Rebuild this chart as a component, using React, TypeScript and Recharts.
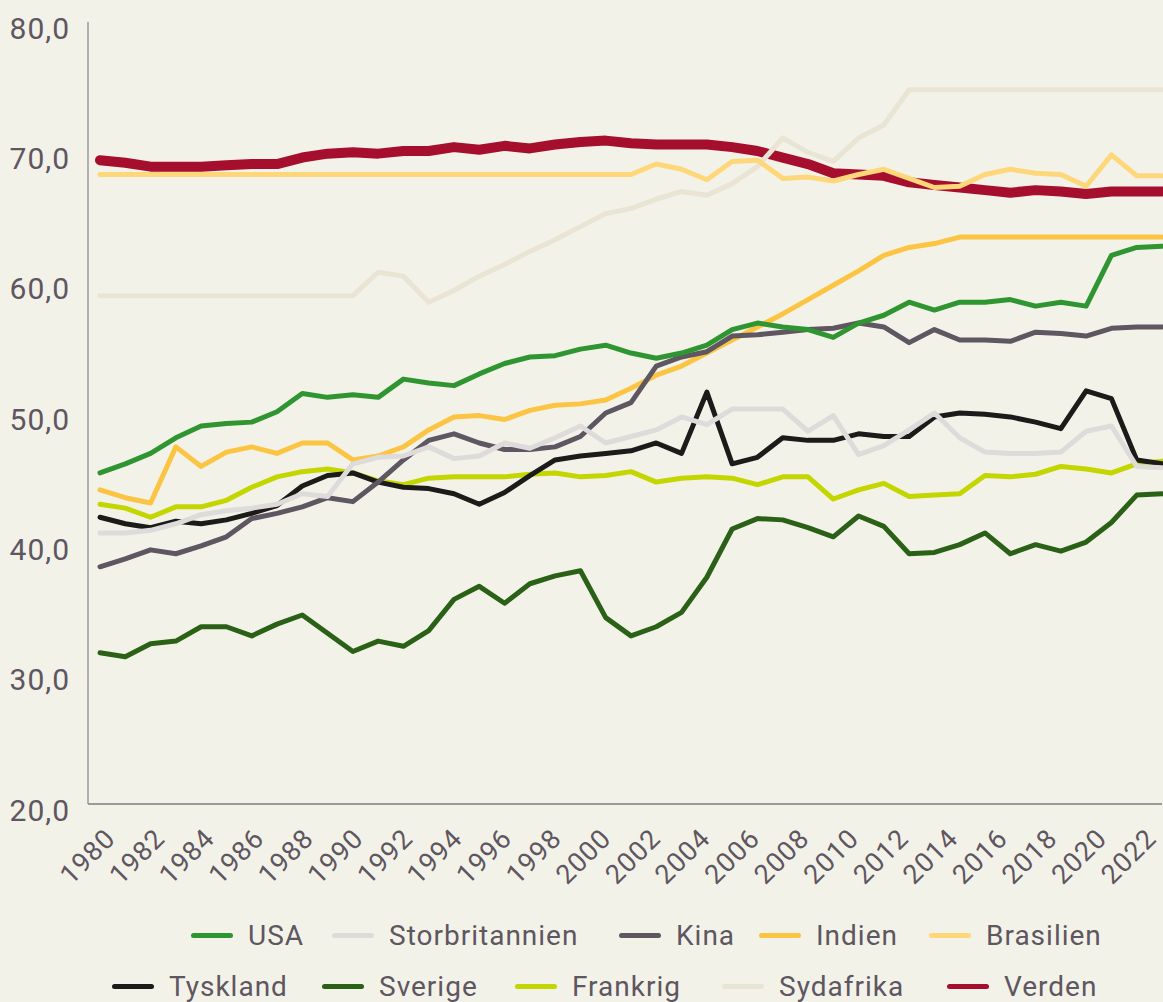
import React from "react";
import { LineChart, Line, XAxis, YAxis, Legend } from "recharts";

const years = [
  1980, 1981, 1982, 1983, 1984, 1985, 1986, 1987, 1988, 1989, 1990, 1991, 1992,
  1993, 1994, 1995, 1996, 1997, 1998, 1999, 2000, 2001, 2002, 2003, 2004, 2005,
  2006, 2007, 2008, 2009, 2010, 2011, 2012, 2013, 2014, 2015, 2016, 2017, 2018,
  2019, 2020, 2021, 2022,
];

const usa = [
  45.4, 46.1, 46.9, 48.1, 49.0, 49.2, 49.3, 50.1, 51.5, 51.2, 51.4, 51.2, 52.6,
  52.3, 52.1, 53.0, 53.8, 54.3, 54.4, 54.9, 55.2, 54.6, 54.2, 54.6, 55.2, 56.4,
  56.9, 56.6, 56.4, 55.8, 56.9, 57.5, 58.5, 57.9, 58.5, 58.5, 58.7, 58.2, 58.5,
  58.2, 62.1, 62.7, 62.8,
];
const storbritannien = [
  40.8, 40.8, 41.0, 41.5, 42.2, 42.5, 42.7, 43.0, 43.8, 43.6, 46.1, 46.6, 46.7,
  47.4, 46.5, 46.7, 47.7, 47.3, 48.1, 49.0, 47.7, 48.2, 48.7, 49.7, 49.1, 50.3,
  50.3, 50.3, 48.6, 49.8, 46.8, 47.5, 48.7, 50.0, 48.1, 47.0, 46.9, 46.9, 47.0,
  48.6, 49.0, 45.9, 45.8,
];
const kina = [
  38.2, 38.8, 39.5, 39.2, 39.8, 40.5, 41.9, 42.3, 42.8, 43.5, 43.2, 44.7, 46.4,
  47.9, 48.4, 47.7, 47.2, 47.2, 47.4, 48.2, 50.0, 50.8, 53.6, 54.3, 54.7, 55.9,
  56.0, 56.2, 56.4, 56.5, 56.9, 56.6, 55.4, 56.4, 55.6, 55.6, 55.5, 56.2, 56.1,
  55.9, 56.5, 56.6, 56.6,
];
const indien = [
  44.1, 43.5, 43.1, 47.4, 45.9, 47.0, 47.4, 46.9, 47.7, 47.7, 46.4, 46.7, 47.4,
  48.7, 49.7, 49.8, 49.5, 50.2, 50.6, 50.7, 51.0, 51.9, 52.9, 53.6, 54.6, 55.6,
  56.6, 57.6, 58.7, 59.8, 60.9, 62.1, 62.7, 63.0, 63.5, 63.5, 63.5, 63.5, 63.5,
  63.5, 63.5, 63.5, 63.5,
];
const brasilien = [
  68.3, 68.3, 68.3, 68.3, 68.3, 68.3, 68.3, 68.3, 68.3, 68.3, 68.3, 68.3, 68.3,
  68.3, 68.3, 68.3, 68.3, 68.3, 68.3, 68.3, 68.3, 68.3, 69.1, 68.7, 67.9, 69.3,
  69.4, 68.0, 68.1, 67.8, 68.3, 68.7, 68.0, 67.3, 67.4, 68.3, 68.7, 68.4, 68.3,
  67.4, 69.8, 68.2, 68.2,
];
const tyskland = [
  42.0, 41.5, 41.2, 41.7, 41.5, 41.8, 42.3, 42.9, 44.4, 45.2, 45.4, 44.7, 44.3,
  44.2, 43.8, 43.0, 43.9, 45.2, 46.4, 46.7, 46.9, 47.1, 47.7, 46.9, 51.6, 46.1,
  46.6, 48.1, 47.9, 47.9, 48.4, 48.2, 48.2, 49.7, 50.0, 49.9, 49.7, 49.3, 48.8,
  51.7, 51.1, 46.4, 46.1,
];
const sverige = [
  31.6, 31.3, 32.3, 32.5, 33.6, 33.6, 32.9, 33.8, 34.5, 33.1, 31.7, 32.5, 32.1,
  33.3, 35.7, 36.7, 35.4, 36.9, 37.5, 37.9, 34.3, 32.9, 33.6, 34.7, 37.4, 41.1,
  41.9, 41.8, 41.2, 40.5, 42.1, 41.3, 39.2, 39.3, 39.9, 40.8, 39.2, 39.9, 39.4,
  40.1, 41.6, 43.7, 43.8,
];
const frankrig = [
  43.0, 42.7, 42.0, 42.8, 42.8, 43.3, 44.3, 45.1, 45.5, 45.7, 45.4, 44.8, 44.5,
  45.0, 45.1, 45.1, 45.1, 45.3, 45.4, 45.1, 45.2, 45.5, 44.7, 45.0, 45.1, 45.0,
  44.5, 45.1, 45.1, 43.4, 44.1, 44.6, 43.6, 43.7, 43.8, 45.2, 45.1, 45.3, 45.9,
  45.7, 45.4, 46.1, 46.3,
];
const sydafrika = [
  59.0, 59.0, 59.0, 59.0, 59.0, 59.0, 59.0, 59.0, 59.0, 59.0, 59.0, 60.8, 60.5,
  58.5, 59.4, 60.5, 61.4, 62.4, 63.3, 64.3, 65.3, 65.7, 66.4, 67.0, 66.7, 67.6,
  68.9, 71.1, 70.0, 69.3, 71.1, 72.1, 74.8, 74.8, 74.8, 74.8, 74.8, 74.8, 74.8,
  74.8, 74.8, 74.8, 74.8,
];
const verden = [
  69.4, 69.2, 68.9, 68.9, 68.9, 69.0, 69.1, 69.1, 69.6, 69.9, 70.0, 69.9, 70.1,
  70.1, 70.4, 70.2, 70.5, 70.3, 70.6, 70.8, 70.9, 70.7, 70.6, 70.6, 70.6, 70.4,
  70.1, 69.6, 69.1, 68.4, 68.3, 68.2, 67.7, 67.5, 67.3, 67.1, 66.9, 67.1, 67.0,
  66.8, 67.0, 67.0, 67.0,
];

const yTicks = [20, 30, 40, 50, 60, 70, 80];

const series = [
  { key: "USA", values: usa, color: "#2f9530", width: 5 },
  { key: "Storbritannien", values: storbritannien, color: "#dddcda", width: 5 },
  { key: "Kina", values: kina, color: "#5e5660", width: 5 },
  { key: "Indien", values: indien, color: "#fbc443", width: 5 },
  { key: "Brasilien", values: brasilien, color: "#fdd77a", width: 5 },
  { key: "Tyskland", values: tyskland, color: "#1b1b19", width: 5 },
  { key: "Sverige", values: sverige, color: "#2a6117", width: 5 },
  { key: "Frankrig", values: frankrig, color: "#c3d600", width: 5 },
  { key: "Sydafrika", values: sydafrika, color: "#e9e4d4", width: 5 },
  { key: "Verden", values: verden, color: "#a50e2d", width: 10 },
];

// lines are stacked in reverse legend order (Verden at the bottom, USA on top)
const drawOrder = series.map((s) => s.key).reverse();

// legend: two rows, left edge of each swatch
const legendRows = [
  [["USA", 183], ["Storbritannien", 324], ["Kina", 611], ["Indien", 751], ["Brasilien", 921]],
  [["Tyskland", 104], ["Sverige", 314], ["Frankrig", 507], ["Sydafrika", 714], ["Verden", 939]],
] as [string, number][][];

const data = years.map((year, i) => {
  const row: Record<string, number> = { year };
  series.forEach((s) => {
    row[s.key] = s.values[i];
  });
  return row;
});

const textColor = "#5e5660";
const font = "Roboto, 'DejaVu Sans', sans-serif";

const fmt = (v: number) => v.toFixed(1).replace(".", ",");

const XTick = ({ x, y, payload }: any) => {
  const k = (payload.value - 1980) / 2;
  const ax = x + 17 - k;
  const ay = y + 36;
  return (
    <text
      x={ax}
      y={ay}
      textAnchor="end"
      fill={textColor}
      fontSize={27}
      fontFamily={font}
      letterSpacing={1}
      transform={`rotate(-45, ${ax}, ${ay})`}
    >
      {payload.value}
    </text>
  );
};

const YTick = ({ x, y, payload }: any) => (
  <text
    x={x}
    y={y + 6}
    dy="0.36em"
    textAnchor="end"
    fill={textColor}
    fontSize={30}
    fontFamily={font}
    letterSpacing={1}
  >
    {fmt(payload.value)}
  </text>
);

const LegendBox = () => (
  <div style={{ height: 100, position: "relative", fontFamily: font }}>
    {legendRows.map((row, r) =>
      row.map(([name, left]) => {
        const s = series.find((d) => d.key === name)!;
        return (
          <div
            key={name}
            style={{
              position: "absolute",
              top: r === 0 ? 8 : 59,
              left,
              height: 51,
              display: "flex",
              alignItems: "center",
              whiteSpace: "nowrap",
            }}
          >
            <span
              style={{
                display: "inline-block",
                width: 42,
                height: 5,
                borderRadius: 3,
                background: s.color,
                marginRight: 15,
              }}
            />
            <span style={{ fontSize: 28, color: textColor, letterSpacing: 1 }}>{name}</span>
          </div>
        );
      })
    )}
  </div>
);

export default function App() {
  return (
    <div style={{ width: 1163, height: 1002, background: "#f3f2e9", padding: "8px 0 0 8px", boxSizing: "border-box" }}>
      <style>{`html, body { margin: 0; padding: 0; overflow: hidden; background: #f3f2e9; }`}</style>
      <LineChart
        width={1155}
        height={994}
        data={data}
        margin={{ top: 14, right: 1, left: 0, bottom: 0 }}
      >
        <XAxis
          dataKey="year"
          interval={1}
          padding={{ left: 12, right: 0 }}
          tickLine={false}
          tickSize={0}
          tickMargin={0}
          axisLine={{ stroke: "#9a9a9a", strokeWidth: 2 }}
          tick={<XTick />}
          height={98}
        />
        <YAxis
          domain={[20, 80]}
          ticks={yTicks}
          width={80}
          tickLine={false}
          tickSize={0}
          tickMargin={18}
          axisLine={{ stroke: "#9a9a9a", strokeWidth: 1.5 }}
          tick={<YTick />}
        />
        <Legend verticalAlign="bottom" content={<LegendBox />} />
        {drawOrder.map((key) => {
          const s = series.find((d) => d.key === key)!;
          return (
            <Line
              key={key}
              type="linear"
              dataKey={key}
              stroke={s.color}
              strokeWidth={s.width}
              strokeLinecap="round"
              strokeLinejoin="round"
              dot={false}
              activeDot={false}
              isAnimationActive={false}
            />
          );
        })}
      </LineChart>
    </div>
  );
}
